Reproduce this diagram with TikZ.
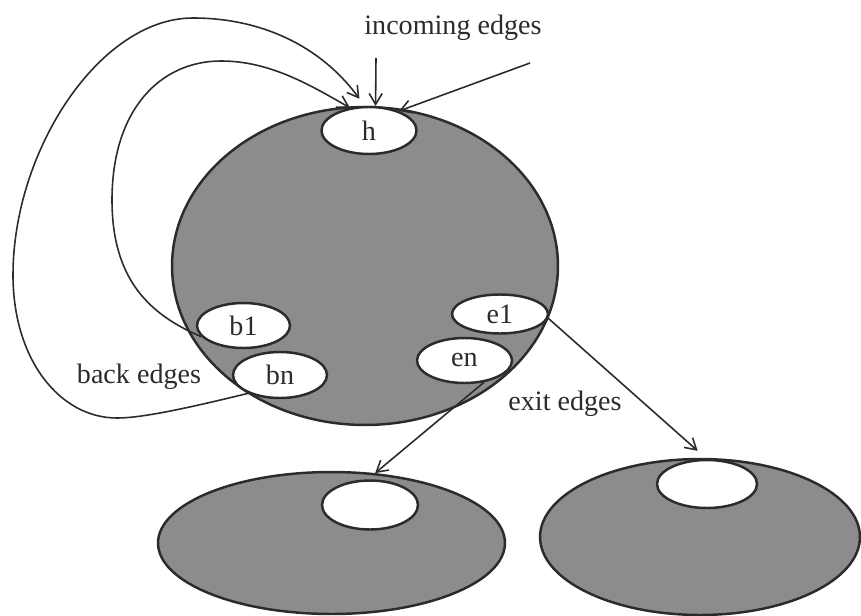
\documentclass[tikz,border=0pt]{standalone}
\usepackage{fontspec}
\setmainfont{Liberation Serif}
\usetikzlibrary{arrows.meta,shapes.geometric}
\definecolor{ink}{HTML}{2B2B2B}
\definecolor{loopgray}{HTML}{8C8C8C}

\begin{document}
\begin{tikzpicture}[
    x=0.02cm, y=-0.02cm,
    font=\fontsize{16}{19}\selectfont,
    region/.style={ellipse, draw=ink, line width=1.4pt, fill=loopgray, inner sep=0pt},
    block/.style={ellipse, draw=ink, line width=1.4pt, fill=white, inner sep=0pt, text=ink},
    note/.style={text=ink, inner sep=1pt},
    arrow/.style={-{Straight Barb[length=2.2mm,width=2.6mm]}, line width=0.9pt, draw=ink}
]
\useasboundingbox (0,0) rectangle (861,615);
\node[region, minimum width=7.72cm, minimum height=6.36cm] (body) at (365,266) {};
\node[block, minimum width=1.9cm, minimum height=0.94cm] (h) at (369,130.5) {h};
\node[block, minimum width=1.86cm, minimum height=0.9cm] (b1) at (243.5,325.5) {b1};
\node[block, minimum width=1.88cm, minimum height=0.92cm] (bn) at (280,375) {bn};
\node[block, minimum width=1.92cm, minimum height=0.78cm] (e1) at (500,314) {e1};
\node[block, minimum width=1.9cm, minimum height=0.9cm] (en) at (464.5,360.5) {en};
\node[region, minimum width=6.94cm, minimum height=2.84cm] (succA) at (331.5,543) {};
\node[block, minimum width=1.92cm, minimum height=0.98cm] (headA) at (370,505) {};
\node[region, minimum width=6.4cm, minimum height=3.12cm] (succB) at (700,537) {};
\node[block, minimum width=2cm, minimum height=0.96cm] (headB) at (707,484) {};
\node[note] (intext) at (453,28) {incoming edges};
\node[note] (backtext) at (139,377) {back edges};
\node[note] (exittext) at (565,404) {exit edges};
\coordinate (src1) at (376,58);
\coordinate (src2) at (530,63);
\draw[arrow] (src1) -- (h.75);
\draw[arrow] (src2) -- (h.33);
\draw[arrow] (b1.195) .. controls (150,315) and (112,280) .. (112,200)
    .. controls (112,110) and (160,61) .. (221,61)
    .. controls (270,61) and (310,85) .. (h.130);
\draw[arrow, shorten >=5pt] (bn.210) .. controls (180,410) and (140,418) .. (117,418)
    .. controls (60,418) and (13,360) .. (13,275)
    .. controls (13,150) and (100,18) .. (193,18)
    .. controls (260,18) and (320,45) .. (h.100);
\draw[arrow] (en.312) -- (succA.58);
\draw[arrow, shorten >=6pt] (e1.-5) -- (succB.86);
\end{tikzpicture}
\end{document}
